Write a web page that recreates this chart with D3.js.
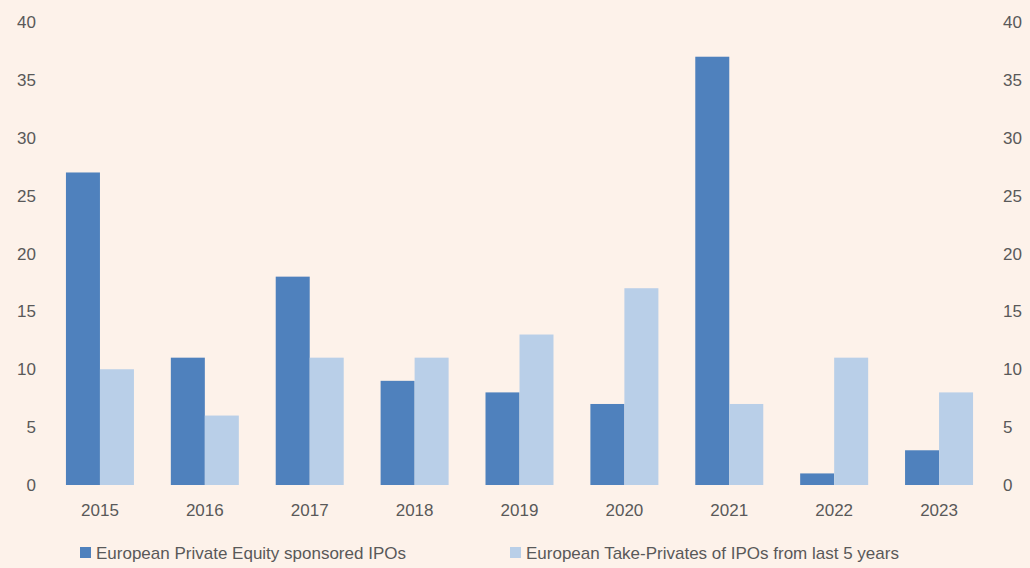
<!DOCTYPE html>
<html><head><meta charset="utf-8">
<script src="https://cdn.jsdelivr.net/npm/d3@7"></script>
<style>body{margin:0;background:#fdf2ea}</style>
</head><body><div id="chart"></div>
<script>
var years = ["2015","2016","2017","2018","2019","2020","2021","2022","2023"]
var peIpos = [27, 11, 18, 9, 8, 7, 37, 1, 3]
var takePrivates = [10, 6, 11, 11, 13, 17, 7, 11, 8]
var yTicks = [0, 5, 10, 15, 20, 25, 30, 35, 40]
var seriesNames = ["European Private Equity sponsored IPOs", "European Take-Privates of IPOs from last 5 years"]
var colors = ["#4f81bd", "#b9cfe8"]

var svg = d3.select("#chart").append("svg")
    .attr("width", 1030).attr("height", 568)
    .style("font-family", "Liberation Sans, Arial, sans-serif")

svg.append("rect").attr("width", 1030).attr("height", 568).attr("fill", "#fdf2ea")

var x = d3.scaleBand().domain(years).range([47.5, 991.5])
var y = d3.scaleLinear().domain([0, 40]).range([485, 22])
var barW = 34

// left and right tick labels
svg.append("g").selectAll("text").data(yTicks).join("text")
    .attr("x", 36).attr("y", d => y(d) + 6)
    .attr("text-anchor", "end").attr("font-size", 17).attr("fill", "#595959")
    .text(d => d)
svg.append("g").selectAll("text").data(yTicks).join("text")
    .attr("x", 1003).attr("y", d => y(d) + 6)
    .attr("text-anchor", "start").attr("font-size", 17).attr("fill", "#595959")
    .text(d => d)

var groups = [peIpos, takePrivates]
groups.forEach(function(vals, i) {
    svg.append("g").selectAll("rect").data(vals).join("rect")
        .attr("x", (d, j) => x(years[j]) + x.bandwidth() / 2 - barW + i * barW)
        .attr("y", d => y(d))
        .attr("width", barW)
        .attr("height", d => y(0) - y(d))
        .attr("fill", colors[i])
})

svg.append("g").selectAll("text").data(years).join("text")
    .attr("x", d => x(d) + x.bandwidth() / 2).attr("y", 516)
    .attr("text-anchor", "middle").attr("font-size", 17).attr("fill", "#595959")
    .text(d => d)

// legend
var legendX = [80, 510]
seriesNames.forEach(function(name, i) {
    svg.append("rect").attr("x", legendX[i]).attr("y", 547).attr("width", 11).attr("height", 11).attr("fill", colors[i])
    svg.append("text").attr("x", legendX[i] + 16).attr("y", 559)
        .attr("font-size", 17).attr("fill", "#595959").text(name)
})
</script>
</body></html>
